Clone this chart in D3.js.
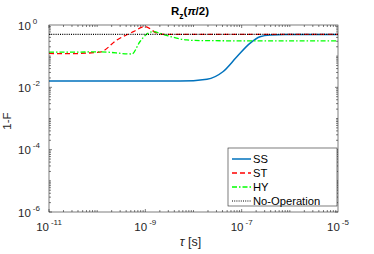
<!DOCTYPE html>
<html>
<head>
<meta charset="utf-8">
<script src="https://cdn.jsdelivr.net/npm/d3@7"></script>
<style>
  body { margin: 0; background: #fff; }
  svg { font-family: "Liberation Sans", Arial, sans-serif; }
</style>
</head>
<body>
<svg id="chart"></svg>
<script>
const W = 374, H = 254;
const margin = {top: 25, right: 36, bottom: 42, left: 49};
const w = 338 - margin.left;
const h = 212 - margin.top;

// tau values in log10 seconds, 1-F in log10
const ssTau = [-11, -10, -9, -8.28, -7.72, -7.39, -7.10, -6.83, -6.62, -6.41, -6.1, -5];
const ssVal = [-1.80, -1.80, -1.80, -1.80, -1.74, -1.50, -1.02, -0.59, -0.375, -0.32, -0.305, -0.305];

const stTau = [-11, -10.6, -9.94, -9.59, -9.25, -9.01, -8.76, -8.59, -7, -5];
const stVal = [-0.91, -0.92, -0.87, -0.48, -0.215, -0.05, -0.26, -0.30, -0.30, -0.30];

const hyTau = [-11, -10.5, -9.94, -9.28, -9.11, -8.95, -8.84, -8.63, -8.43, -8.14, -7.87, -6.5, -5];
const hyVal = [-0.87, -0.87, -0.86, -0.93, -0.53, -0.27, -0.215, -0.30, -0.39, -0.48, -0.50, -0.51, -0.51];

const noTau = [-11, -5];
const noVal = [-0.301, -0.301];

const xTickExp = [-11, -9, -7, -5];
const yTickExp = [0, -2, -4, -6];

const series = [
  {name: "SS", tau: ssTau, val: ssVal, color: "#0072BD", dash: null, width: 1.5},
  {name: "ST", tau: stTau, val: stVal, color: "#FF0000", dash: "5,3", width: 1.3},
  {name: "HY", tau: hyTau, val: hyVal, color: "#00FF00", dash: "5,2,1.5,2", width: 1.3},
  {name: "No-Operation", tau: noTau, val: noVal, color: "#000000", dash: "1,1.2", width: 1.2}
];

const svg = d3.select("#chart").attr("width", W).attr("height", H);
const g = svg.append("g").attr("transform", `translate(${margin.left},${margin.top})`);

const x = d3.scaleLog().domain([1e-11, 1e-5]).range([0, w]);
const y = d3.scaleLog().domain([1e-6, 1]).range([h, 0]);

// minor + major ticks on all four sides
const minorX = [], minorY = [];
for (let e = -11; e < -5; e++) for (let m = 1; m < 10; m++) minorX.push(m * Math.pow(10, e));
for (let e = -6; e < 0; e++) for (let m = 1; m < 10; m++) minorY.push(m * Math.pow(10, e));

const axisColor = "#262626";
const frame = g.append("g").attr("stroke", axisColor).attr("stroke-width", 0.6);
minorX.forEach(v => {
  const len = xTickExp.some(e => Math.abs(Math.log10(v) - e) < 1e-6) ? 3 : 2;
  frame.append("line").attr("x1", x(v)).attr("x2", x(v)).attr("y1", h).attr("y2", h - len);
  frame.append("line").attr("x1", x(v)).attr("x2", x(v)).attr("y1", 0).attr("y2", len);
});
minorY.forEach(v => {
  const len = yTickExp.some(e => Math.abs(Math.log10(v) - e) < 1e-6) ? 3 : 2;
  frame.append("line").attr("y1", y(v)).attr("y2", y(v)).attr("x1", 0).attr("x2", len);
  frame.append("line").attr("y1", y(v)).attr("y2", y(v)).attr("x1", w).attr("x2", w - len);
});

// lines
const line = d3.line().x(d => x(Math.pow(10, d[0]))).y(d => y(Math.pow(10, d[1]))).curve(d3.curveMonotoneX);
series.forEach(s => {
  g.append("path")
    .datum(s.tau.map((t, i) => [t, s.val[i]]))
    .attr("fill", "none")
    .attr("stroke", s.color)
    .attr("stroke-width", s.width)
    .attr("stroke-dasharray", s.dash)
    .attr("d", line);
});

g.append("rect").attr("width", w).attr("height", h)
  .attr("fill", "none").attr("stroke", axisColor).attr("stroke-width", 0.6);

// tick labels
xTickExp.forEach(e => {
  const t = g.append("text").attr("x", x(Math.pow(10, e))).attr("y", h + 19)
    .attr("text-anchor", "middle").attr("font-size", 11.5).attr("fill", "#262626");
  t.append("tspan").text("10");
  t.append("tspan").attr("dx", 2).attr("dy", -6).attr("font-size", 8).text(String(e));
});
yTickExp.forEach(e => {
  const t = svg.append("text").attr("x", 18).attr("y", margin.top + y(Math.pow(10, e)) + 4.5)
    .attr("font-size", 11.5).attr("fill", "#262626");
  t.append("tspan").text("10");
  t.append("tspan").attr("dx", 2).attr("dy", -6).attr("font-size", 8).text(String(e));
});

// axis titles
svg.append("text").attr("x", margin.left + w / 2 - 3).attr("y", 246)
  .attr("text-anchor", "middle").attr("font-size", 12.5).attr("fill", "#262626")
  .html('<tspan font-style="italic">τ</tspan> [s]');
svg.append("text").attr("transform", `translate(11,121) rotate(-90)`)
  .attr("text-anchor", "middle").attr("font-size", 11.5).attr("fill", "#262626")
  .text("1-F");

// title
const title = svg.append("text").attr("x", 190).attr("y", 15)
  .attr("text-anchor", "middle").attr("font-size", 11.5).attr("font-weight", "bold").attr("fill", "#000");
title.append("tspan").text("R");
title.append("tspan").attr("dy", 4).attr("font-size", 8.5).text("z");
title.append("tspan").attr("dy", -4).text("(");
title.append("tspan").attr("font-style", "italic").text("π");
title.append("tspan").text("/2)");

// legend
const lg = svg.append("g").attr("transform", "translate(228,148)");
lg.append("rect").attr("width", 109).attr("height", 58)
  .attr("fill", "#fff").attr("stroke", axisColor).attr("stroke-width", 0.6);
series.forEach((s, i) => {
  const yy = 11 + i * 14;
  lg.append("line").attr("x1", 4).attr("x2", 23).attr("y1", yy).attr("y2", yy)
    .attr("stroke", s.color).attr("stroke-width", s.width).attr("stroke-dasharray", s.dash);
  lg.append("text").attr("x", 25).attr("y", yy + 4).attr("font-size", 11.2).attr("fill", "#000").text(s.name);
});
</script>
</body>
</html>
